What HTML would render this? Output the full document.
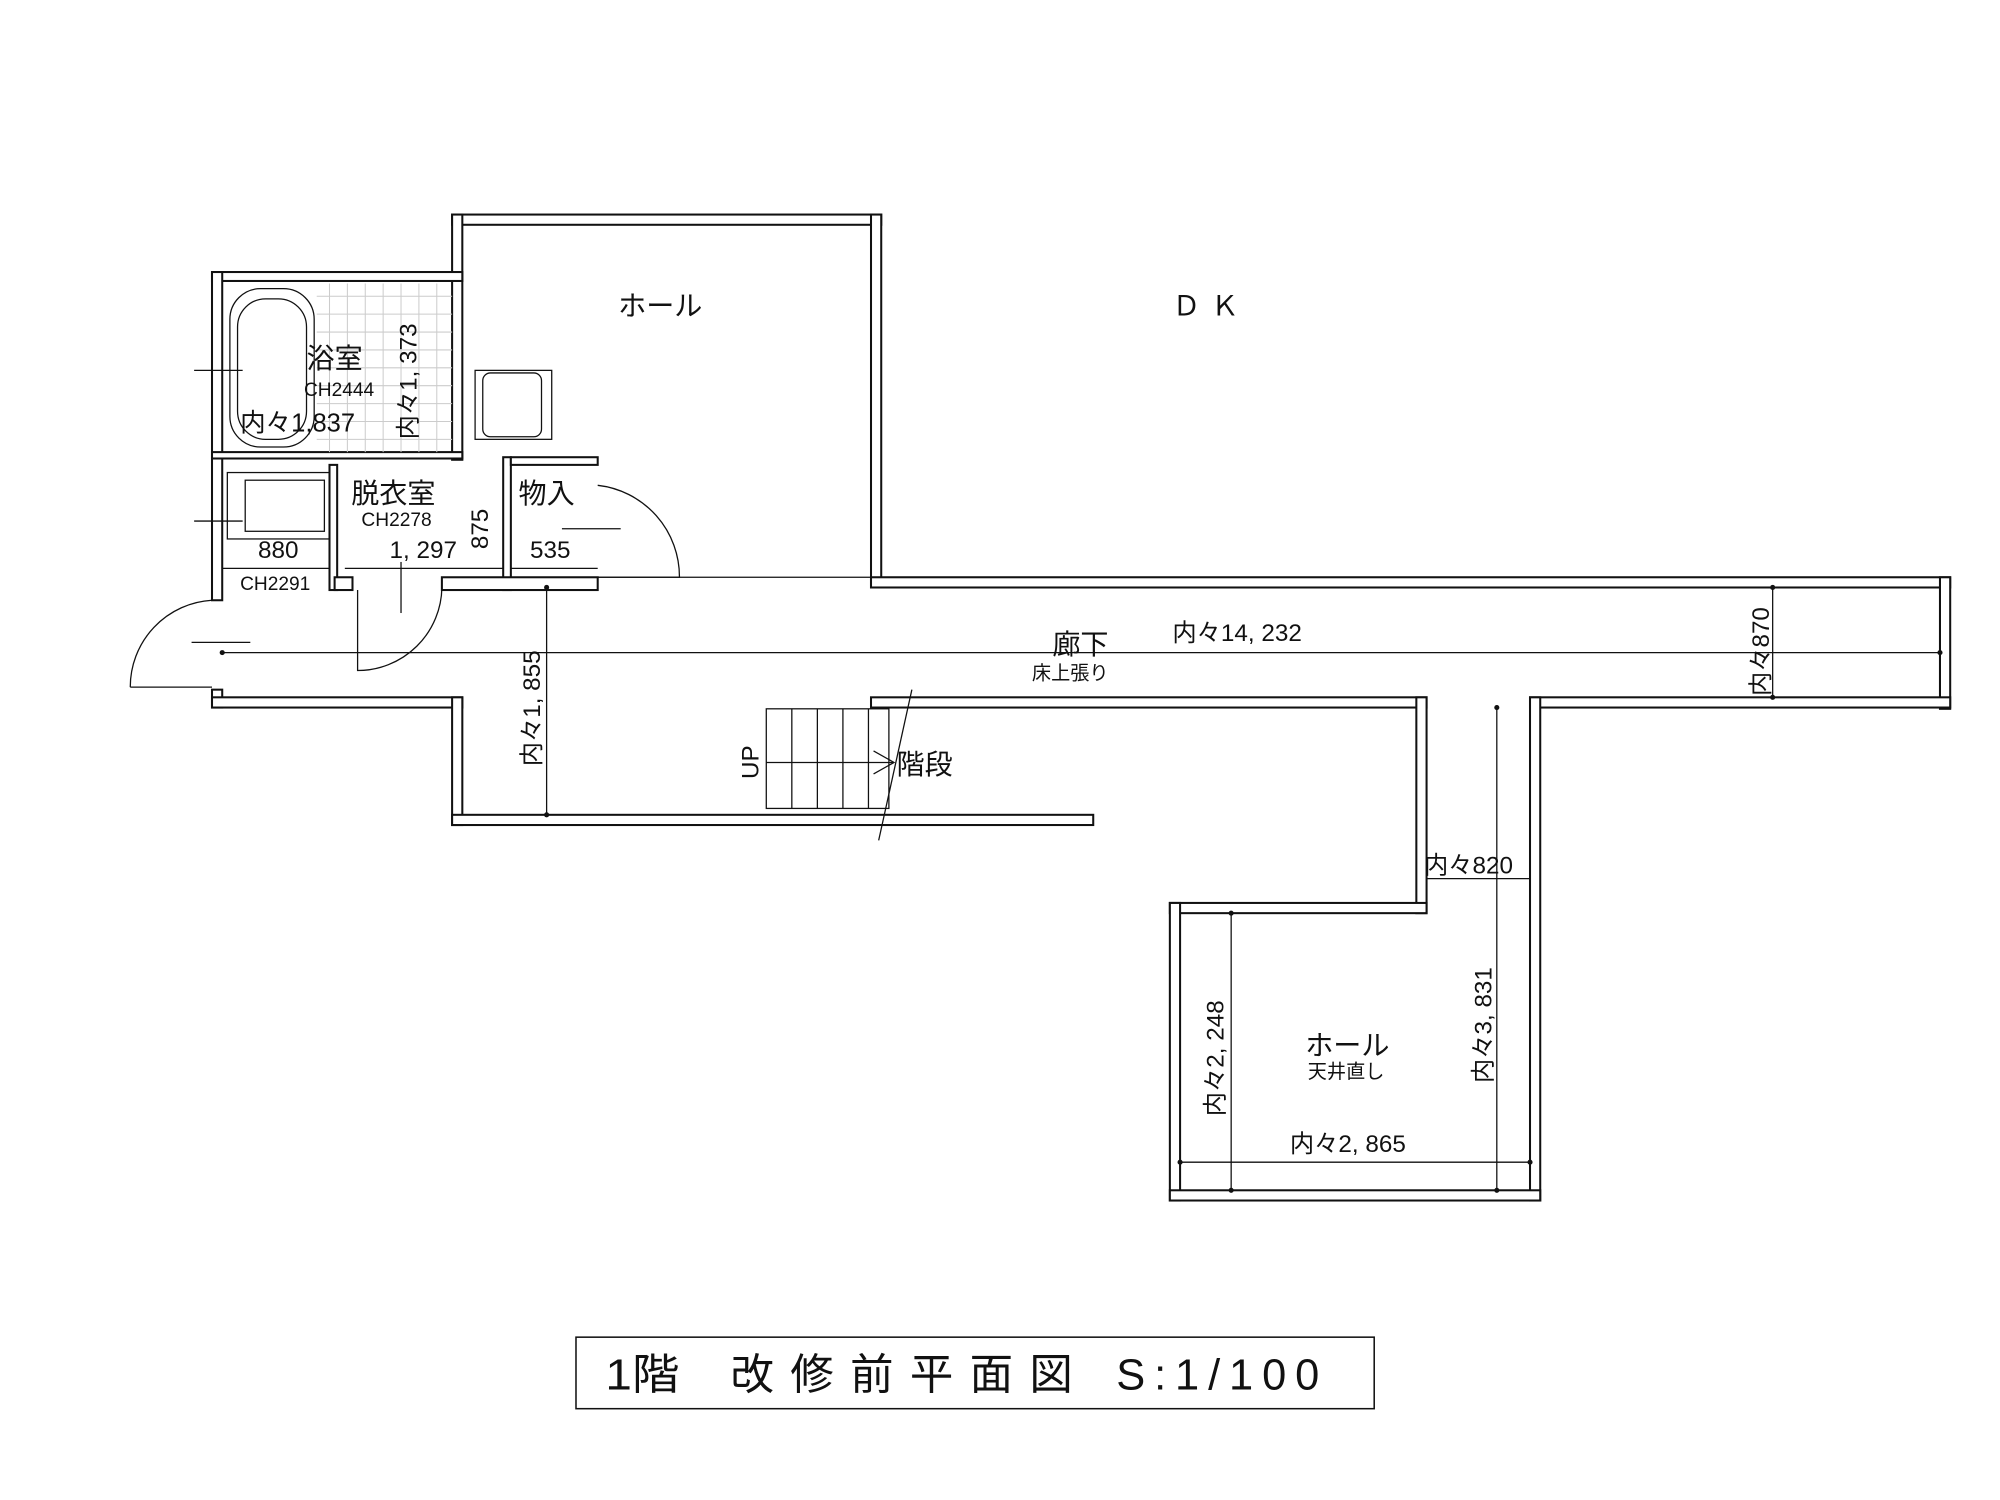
<!DOCTYPE html>
<html><head><meta charset="utf-8"><style>
html,body{margin:0;padding:0;background:#fff}
svg{display:block}
text{font-family:"Liberation Sans","Noto Sans CJK JP",sans-serif;fill:#111}
</style></head><body>
<svg width="2000" height="1500" viewBox="0 0 1566 1174.5" xmlns="http://www.w3.org/2000/svg">
<g fill="#fff" stroke="#111" stroke-width="1.6">
<rect x="354" y="168" width="336" height="8"/>
<rect x="354" y="168" width="8" height="192"/>
<rect x="682" y="168" width="8" height="292"/>
<rect x="166" y="213" width="196" height="7"/>
<rect x="166" y="213" width="8" height="257"/>
<rect x="166" y="354" width="196" height="5"/>
<rect x="258" y="364" width="6" height="98"/>
<rect x="394" y="358" width="6" height="104"/>
<rect x="400" y="358" width="68" height="6"/>
<rect x="262" y="452" width="14" height="10"/>
<rect x="346" y="452" width="122" height="10"/>
<rect x="682" y="452" width="845" height="8"/>
<rect x="1519" y="452" width="8" height="103"/>
<rect x="1198" y="546" width="329" height="8"/>
<rect x="682" y="546" width="435" height="8"/>
<rect x="166" y="540" width="8" height="14"/>
<rect x="166" y="546" width="196" height="8"/>
<rect x="354" y="546" width="8" height="100"/>
<rect x="354" y="638" width="502" height="8"/>
<rect x="1109" y="546" width="8" height="169"/>
<rect x="1198" y="546" width="8" height="394"/>
<rect x="916" y="707" width="201" height="8"/>
<rect x="916" y="707" width="8" height="233"/>
<rect x="916" y="932" width="290" height="8"/>
</g>
<g fill="none" stroke="#111" stroke-width="1">
<rect x="180" y="226" width="66" height="124" rx="24"/>
<rect x="186" y="234" width="54" height="110" rx="22"/>
<rect x="178" y="370" width="80" height="52"/>
<rect x="192" y="376" width="62" height="40"/>
<rect x="372" y="290" width="60" height="54"/>
<rect x="378" y="292" width="46" height="50" rx="6"/>
<path d="M102 538 L166 538 M166 470 A68 68 0 0 0 102 538"/>
<path d="M280 462 L280 525 A66 66 0 0 0 346 460"/>
<path d="M468 380 A72 72 0 0 1 532 452 L468 452"/>
<line x1="174" y1="511" x2="1519" y2="511"/>
<line x1="428" y1="460" x2="428" y2="638"/>
<line x1="1388" y1="460" x2="1388" y2="546"/>
<line x1="1172" y1="554" x2="1172" y2="932"/>
<line x1="964" y1="715" x2="964" y2="932"/>
<line x1="924" y1="910" x2="1198" y2="910"/>
<line x1="1117" y1="688" x2="1198" y2="688"/>
<line x1="150" y1="503" x2="196" y2="503"/>
<line x1="440" y1="414" x2="486" y2="414"/>
<line x1="152" y1="290" x2="190" y2="290"/>
<line x1="152" y1="408" x2="190" y2="408"/>
<line x1="174" y1="445" x2="258" y2="445"/>
<line x1="400" y1="445" x2="468" y2="445"/>
<line x1="270" y1="445" x2="394" y2="445"/>
<line x1="362" y1="452" x2="682" y2="452"/>
<line x1="314" y1="440" x2="314" y2="480"/>
<rect x="600" y="555" width="96" height="78"/>
<line x1="620" y1="555" x2="620" y2="633"/><line x1="640" y1="555" x2="640" y2="633"/>
<line x1="660" y1="555" x2="660" y2="633"/><line x1="680" y1="555" x2="680" y2="633"/>
<line x1="600" y1="597" x2="700" y2="597"/>
<line x1="714" y1="540" x2="688" y2="658"/>
<path d="M684 588 L700 597 L684 606"/>
</g>
<g fill="#111">
<circle cx="174" cy="511" r="2"/><circle cx="1519" cy="511" r="2"/>
<circle cx="428" cy="460" r="2"/><circle cx="428" cy="638" r="2"/>
<circle cx="1388" cy="460" r="2"/><circle cx="1388" cy="546" r="2"/>
<circle cx="1172" cy="554" r="2"/><circle cx="1172" cy="932" r="2"/>
<circle cx="964" cy="715" r="2"/><circle cx="964" cy="932" r="2"/>
<circle cx="924" cy="910" r="2"/><circle cx="1198" cy="910" r="2"/>
</g>
<g stroke="#ccc" stroke-width="0.8">
<path d="M248 232H354M248 246H354M248 260H354M248 274H354M248 288H354M248 302H354M248 316H354M248 330H354M248 344H354M258 222V354M272 222V354M286 222V354M300 222V354M314 222V354M328 222V354M342 222V354"/>
</g>
<g font-size="22">
<text x="484" y="247">ホール</text>
<text x="918" y="247" letter-spacing="8">ＤＫ</text>
<text x="240" y="288">浴室</text>
<text x="238" y="310" font-size="15">CH2444</text>
<text x="188" y="338" font-size="20">内々1,837</text>
<text x="275" y="394">脱衣室</text>
<text x="283" y="412" font-size="15">CH2278</text>
<text x="406" y="394">物入</text>
<text x="202" y="437" font-size="19">880</text>
<text x="188" y="462" font-size="15">CH2291</text>
<text x="305" y="437" font-size="19">1, 297</text>
<text x="415" y="437" font-size="19">535</text>
<text x="824" y="512">廊下</text>
<text x="808" y="532" font-size="15">床上張り</text>
<text x="918" y="502" font-size="19">内々14, 232</text>
<text x="702" y="606">階段</text>
<text x="1115" y="684" font-size="19">内々820</text>
<text x="1022" y="826">ホール</text>
<text x="1024" y="844" font-size="15">天井直し</text>
<text x="1010" y="902" font-size="19">内々2, 865</text>
</g>
<g font-size="19">
<text transform="translate(326,344) rotate(-90)">内々1, 373</text>
<text transform="translate(382,430) rotate(-90)">875</text>
<text transform="translate(423,600) rotate(-90)">内々1, 855</text>
<text transform="translate(1385,545) rotate(-90)">内々870</text>
<text transform="translate(958,874) rotate(-90)">内々2, 248</text>
<text transform="translate(1168,848) rotate(-90)">内々3, 831</text>
<text transform="translate(594,610) rotate(-90)">UP</text>
</g>
<rect x="451" y="1047" width="625" height="56" fill="none" stroke="#111" stroke-width="1.2"/>
<g font-size="34">
<text x="474" y="1088" textLength="58" lengthAdjust="spacingAndGlyphs">1階</text>
<text x="572" y="1088" textLength="268" lengthAdjust="spacing">改修前平面図</text>
<text x="874" y="1088" textLength="159" lengthAdjust="spacing">S:1/100</text>
</g>
</svg>
</body></html>
